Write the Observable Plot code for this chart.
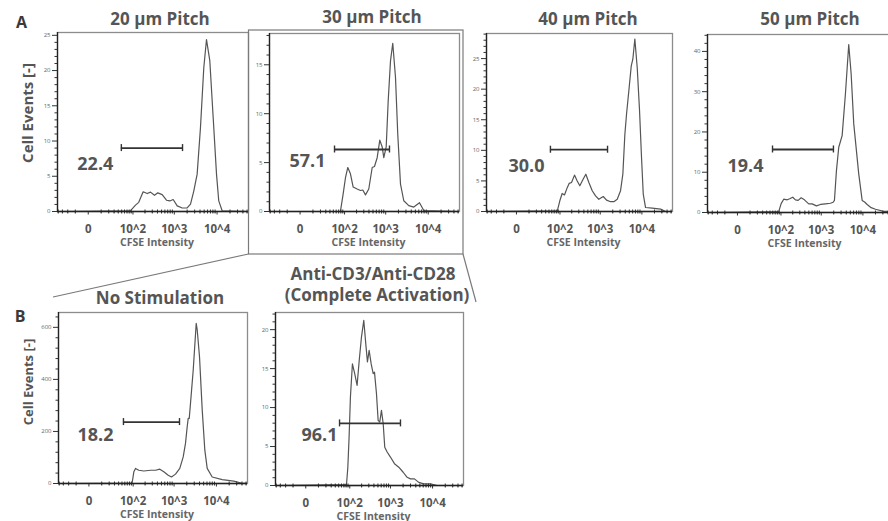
<!DOCTYPE html>
<html><head><meta charset="utf-8">
<script src="https://cdn.jsdelivr.net/npm/d3@7"></script>
<script src="https://cdn.jsdelivr.net/npm/@observablehq/plot@0.6"></script>
<style>
html,body{margin:0;padding:0;background:#fff;}
body{width:888px;height:521px;overflow:hidden;position:relative;font-family:"Open Sans",sans-serif;}
.panel{position:absolute;}
.panel svg{overflow:visible;display:block;max-width:none !important;}
#overlay{position:absolute;left:0;top:0;pointer-events:none;}
</style></head><body>
<script>
// ---- data: [CFSE intensity, cell events] ----
const pitch20 = [[-42,0],[86,0.1],[116,0.9],[140,1.3],[180,2.8],[226,2.55],[272,2.75],[339,2.3],[407,2.65],[517,2.4],[654,1.6],[783,1.5],[941,1.7],[1170,0.8],[1530,0.5],[2000,0.5],[2400,1.05],[2860,2.9],[3430,5.3],[4100,11.9],[4900,20.4],[5670,24.4],[6770,21.4],[8120,13.3],[9700,5.3],[10950,1.5],[13140,0.1],[54000,0]];
const pitch30 = [[-42,0],[78,0],[92,1.8],[106,3.5],[121,4.5],[141,3.85],[165,2.5],[207,2.3],[249,2.15],[284,2.2],[330,1.7],[396,2.3],[478,4.5],[542,4.6],[628,5.5],[725,7.3],[826,6.6],[902,5.5],[1028,6.6],[1146,11.3],[1299,15.4],[1469,17.2],[1704,13.7],[1926,7.9],[2234,2.8],[2669,1.1],[3498,0.6],[4582,0.45],[6242,0.9],[7860,0.1],[54000,0]];
const pitch40 = [[-42,0],[85,0.1],[99,1.75],[114,2.95],[131,2.7],[154,3.9],[173,4.6],[198,4.75],[235,5.95],[274,5.0],[318,4.2],[386,5.3],[447,6.1],[530,4.75],[640,3.4],[770,2.55],[925,2.0],[1181,2.45],[1419,1.85],[1772,1.6],[2128,1.6],[2566,2.0],[3080,3.4],[3498,6.1],[3907,12.6],[4285,15.9],[4865,19.7],[5562,23.8],[6071,24.9],[6782,28.2],[7735,23.5],[8780,16.5],[9807,8.8],[10780,2.85],[12240,0.65],[17690,0.55],[27980,0.4],[36800,0],[54000,0]];
const pitch50 = [[-42,0],[87,0.2],[101,2.2],[118,3.3],[145,3.15],[168,3.4],[200,3.8],[234,3.15],[273,3.0],[324,3.65],[390,3.15],[497,2.15],[602,2.15],[764,1.65],[956,2.0],[1264,2.15],[1665,2.3],[1935,2.55],[2079,3.0],[2323,10.4],[2639,16.2],[3182,19.1],[3818,29.5],[4582,41.7],[5226,34.5],[6043,22],[7950,9.6],[9606,3.0],[11000,2.6],[12640,2.0],[15770,1.2],[19990,0.8],[31540,0.3],[54000,0.2]];
const noStim = [[-42,0],[94,2],[104,45],[115,58],[139,51],[186,48],[272,51],[359,51],[457,55],[569,45],[725,32],[869,25],[1081,36],[1367,58],[1646,102],[1865,154],[2046,218],[2163,250],[2286,250],[2450,308],[2841,436],[3340,615],[3530,590],[3999,487],[4635,282],[5336,128],[6071,58],[7970,25],[13700,15],[25690,9],[38360,2],[54000,0]];
const antiCD3 = [[-42,0],[82,0.1],[89,2.35],[96,6.2],[104,11.35],[117,15.6],[134,14.35],[154,12.85],[174,16.05],[198,19.05],[226,21.2],[253,18.2],[278,15.85],[306,17.35],[343,15.6],[384,14.35],[413,14.55],[461,11.8],[506,8.35],[554,8.15],[608,9.65],[669,7.95],[730,4.9],[833,4.3],[999,3.65],[1246,2.8],[1579,2.35],[2008,1.7],[2496,1.05],[2996,0.85],[3723,0.85],[4711,0.4],[6184,0.2],[8923,0.2],[12840,0],[54000,0]];

// gates: [start, end, level, percentage label]
const gate20 = [49, 1560, 9.0, "22.4"];
const gate30 = [54, 1229, 6.34, "57.1"];
const gate40 = [55, 1500, 10.1, "30.0"];
const gate50 = [59, 1967, 15.65, "19.4"];
const gateNoStim = [55, 1345, 236, "18.2"];
const gateAnti = [53, 1732, 7.97, "96.1"];

const panelTitles = [["20 µm Pitch"],["30 µm Pitch"],["40 µm Pitch"],["50 µm Pitch"],["No Stimulation"],["Anti-CD3/Anti-CD28","(Complete Activation)"]];
const yMaxes = [25.4, 18.2, 29.1, 44.2, 657, 22.2];
const yTickSets = [[0,5,10,15,20,25],[0,5,10,15],[0,5,10,15,20,25],[0,10,20,30,40],[0,200,400,600],[0,5,10,15,20]];
const yMinorSteps = [1,1,1,2,40,1];

const xTickValues = [0, 100, 1000, 10000];
const xTickLabels = ["0", "10^2", "10^3", "10^4"];
const xMinorTicks = [-40,-30,-20,-10,10,20,30,40,50,60,70,80,90,200,300,400,500,600,700,800,900,2000,3000,4000,5000,6000,7000,8000,9000,20000,30000,40000,50000];
const xDomain = [-42, 54000];
const xLabel = "CFSE Intensity";
const yLabel = "Cell Events [-]";

// ---- layout ----
const series = [pitch20, pitch30, pitch40, pitch50, noStim, antiCD3];
const gates = [gate20, gate30, gate40, gate50, gateNoStim, gateAnti];
const frames = [
  {l:57,t:32,r:248,b:211},{l:269,t:33,r:459,b:211},{l:486,t:33,r:672,b:211},
  {l:707,t:34,r:893,b:212},{l:58,t:312,r:247,b:483},{l:275,t:312,r:463,b:485}
];
const gateLabelOffsets = [[-8,16],[-9,12],[-6,17],[-9,17],[-10,13],[-2,12]];
const titlePos = [[[160,25]],[[372,23]],[[588,24.5]],[[810,24.5]],[[160,303.5]],[[373,279.5],[377,300.5]]];
const M = {l:36, r:6, t:4, b:46};
const TXT = "#555";
const FONT = '"Open Sans", sans-serif';
const labelOf = new Map(xTickValues.map((v,i)=>[v, xTickLabels[i]]));

series.forEach((data, i) => {
  const f = frames[i];
  const fw = f.r - f.l, fh = f.b - f.t;
  const g = gates[i];
  const [gdx, gdy] = gateLabelOffsets[i];
  const yMinor = d3.range(0, yMaxes[i], yMinorSteps[i]).filter(v => !yTickSets[i].includes(v));
  const W = fw + M.l + M.r, H = fh + M.t + M.b;
  const chart = Plot.plot({
    width: W, height: H,
    marginLeft: M.l, marginRight: M.r, marginTop: M.t, marginBottom: M.b,
    style: {fontFamily: FONT, background: "transparent", overflow: "visible", maxWidth: "none"},
    x: {type: "symlog", constant: 10, domain: xDomain},
    y: {domain: [0, yMaxes[i]]},
    marks: [
      Plot.frame({stroke: "#8c8c8c", strokeWidth: 1.3}),
      Plot.line(data, {x: d => d[0], y: d => d[1], stroke: "#555", strokeWidth: 1.2, clip: true}),
      Plot.axisY({ticks: yTickSets[i], tickSize: 5, tickPadding: 2, fontSize: 6, stroke: "#333", fill: "#666"}),
      Plot.axisY({ticks: yMinor, text: null, tickSize: 2.5, stroke: "#333"}),
      Plot.axisX({ticks: xTickValues, tickFormat: d => labelOf.get(d), tickSize: 3.5, tickPadding: 10, fontSize: 11.5, fontWeight: "bold", fill: TXT, stroke: "#333"}),
      Plot.axisX({ticks: xMinorTicks, text: null, tickSize: 2.5, stroke: "#333"}),
      Plot.ruleX(xMinorTicks, {x: d => d, y1: 0, y2: 0, insetTop: -1.5, insetBottom: -1.5, stroke: "#333"}),
      Plot.ruleY([0], {stroke: "#222", strokeWidth: 1.3}),
      Plot.ruleX([xDomain[0]], {stroke: "#222", strokeWidth: 1.3}),
      Plot.text([xLabel], {frameAnchor: "bottom", dx: 4, dy: 34, fontSize: 10.5, fontWeight: "bold", fill: "#666"}),
      Plot.ruleY([g], {x1: d => d[0], x2: d => d[1], y: d => d[2], stroke: "#333", strokeWidth: 1.8}),
      Plot.ruleX([g[0], g[1]], {x: d => d, y1: g[2], y2: g[2], insetTop: -3.5, insetBottom: -3.5, stroke: "#333", strokeWidth: 1.4}),
      Plot.text([g], {x: d => d[0], y: d => d[2], text: d => d[3], textAnchor: "end", dx: gdx, dy: gdy, fontSize: 18, fontWeight: "bold", fill: TXT})
    ]
  });
  chart.style.maxWidth = "none";
  chart.setAttribute("width", W);
  chart.style.width = W + "px";
  chart.style.height = H + "px";
  const div = document.createElement("div");
  div.className = "panel";
  div.style.left = (f.l - M.l) + "px";
  div.style.top = (f.t - M.t) + "px";
  div.style.width = W + "px";
  div.style.height = H + "px";
  div.appendChild(chart);
  document.body.appendChild(div);
});

// ---- overlay: titles, panel letters, y labels, zoom box ----
const svg = d3.select("body").append("svg").attr("id","overlay").attr("width",888).attr("height",521);
svg.append("rect").attr("x",248.5).attr("y",30).attr("width",214.5).attr("height",224)
  .attr("fill","none").attr("stroke","#7a7a7a").attr("stroke-width",1.2);
svg.append("line").attr("x1",248.5).attr("y1",254).attr("x2",53).attr("y2",297).attr("stroke","#7a7a7a").attr("stroke-width",1.2);
svg.append("line").attr("x1",463).attr("y1",254).attr("x2",476).attr("y2",302).attr("stroke","#7a7a7a").attr("stroke-width",1.2);
panelTitles.forEach((lines, i) => {
  lines.forEach((t, j) => {
    const [x, y] = titlePos[i][j];
    svg.append("text").attr("x",x).attr("y",y).attr("text-anchor","middle")
      .attr("font-family",FONT).attr("font-weight",700).attr("font-size",17).attr("fill",TXT).text(t);
  });
});
[["A",21.5,28.3],["B",20,321.5]].forEach(([t,x,y]) => {
  svg.append("text").attr("x",x).attr("y",y).attr("text-anchor","middle")
    .attr("font-family",FONT).attr("font-weight",700).attr("font-size",16).attr("fill","#3a3a3a").text(t);
});
[[32.5,113,15],[33,382,13]].forEach(([x,y,fs]) => {
  svg.append("text").attr("transform",`translate(${x},${y}) rotate(-90)`).attr("text-anchor","middle")
    .attr("font-family",FONT).attr("font-weight",700).attr("font-size",fs).attr("fill",TXT).text(yLabel);
});
</script>
</body></html>
